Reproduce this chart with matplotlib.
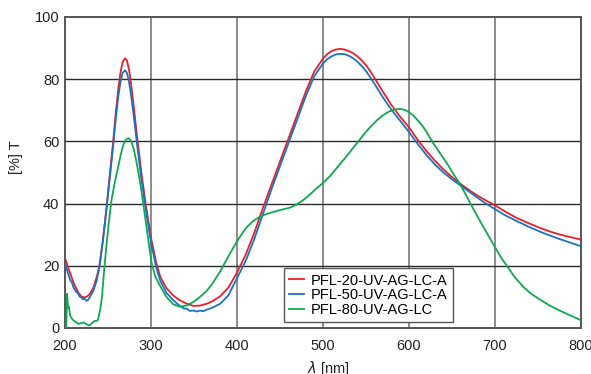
import numpy as np
import matplotlib
matplotlib.use('Agg')
import matplotlib.pyplot as plt

plt.rcParams['font.family'] = ['Liberation Sans', 'DejaVu Sans']

# PFL-20-UV-AG-LC-A (red)
wl_red = [200, 203, 206, 210, 213, 216, 219, 223, 226, 229, 233, 237, 240, 244, 248, 252, 256, 259, 262, 264.5,
          267, 269.8, 272, 274.5, 277, 280, 284, 289, 294, 300, 306, 311, 318, 326, 334, 341.6, 349.4, 357, 365,
          372, 380.5, 390, 400, 410, 420, 430, 440, 450, 460, 470, 480, 490, 500, 505, 510, 515, 520, 525, 530,
          535, 540, 545, 550, 555, 560, 570, 580, 590, 600, 610, 620, 630, 640, 650, 660, 670, 680, 690, 700, 712,
          725, 738, 752, 764, 776, 788, 800]
t_red = [22.5, 20, 17.6, 14.5, 12.7, 11.2, 10.1, 9.8, 10.2, 11, 13, 16.5, 20, 28, 38, 49, 60, 69, 77, 82,
         85.5, 86.7, 86, 83, 78, 71, 61, 49.5, 39.5, 29, 21, 16.3, 12.8, 10.4, 8.8, 7.8, 7.1, 7.2, 7.8,
         8.7, 10.2, 13, 17.8, 23.5, 30.5, 38.5, 46, 53.5, 61, 68.5, 76, 82.5, 86.6, 88, 89, 89.5, 89.7, 89.5, 89,
         88.3, 87.3, 86, 84.5, 82.5, 80.3, 75.8, 71.5, 67.8, 64.5, 60.5, 57, 53.8, 51, 48.5, 46.3, 44.3, 42.5, 40.9,
         39.4, 37.4, 35.4, 33.8, 32.2, 31, 30, 29.2, 28.4]

# PFL-50-UV-AG-LC-A (blue)
wl_blue = [200, 203, 206, 208, 210, 213, 215, 217, 219, 221, 223, 225, 227, 229, 233, 237, 240, 244, 248, 252,
           256, 259, 262, 264.5, 267, 269.8, 272, 274.5, 277, 280, 284, 289, 294, 300, 306, 311, 318, 326, 334,
           338, 341.6, 345, 349.4, 353, 357, 361, 365, 372, 380.5, 390, 400, 410, 420, 430, 440, 450, 460, 470,
           480, 490, 500, 505, 510, 515, 520, 525, 530, 535, 540, 545, 550, 555, 560, 570, 580, 590, 600, 610,
           620, 630, 640, 650, 660, 670, 680, 690, 700, 712, 725, 738, 752, 764, 776, 788, 800]
t_blue = [20.9, 18, 15.4, 14.6, 13, 11.6, 11.2, 10.1, 9.8, 9.2, 9.4, 8.7, 9.1, 10, 12, 15.4, 19.5, 28, 37.5, 48,
          58.5, 67, 74.5, 79, 82, 82.8, 82, 79, 74.5, 68, 58.5, 47.5, 38, 27.5, 19.5, 15, 11.3, 8.9, 7,
          6.3, 6.2, 5.5, 5.6, 5.3, 5.6, 5.4, 5.9, 6.6, 7.8, 10.5, 16, 21.5, 28.5, 36.5, 44.5, 52, 59.5, 67,
          74.5, 81, 85, 86.4, 87.3, 87.9, 88.1, 88, 87.5, 86.7, 85.6, 84.2, 82.6, 80.6, 78.4, 74, 70, 66.5, 63,
          59.2, 55.7, 52.6, 50, 47.8, 45.8, 43.8, 41.8, 39.9, 38.2, 36.2, 34.4, 32.7, 31, 29.7, 28.5, 27.4, 26.3]

# PFL-80-UV-AG-LC (green)
wl_green = [200, 201.5, 202.5, 203.5, 204.5, 206, 208, 210, 213, 216, 219, 222, 225, 228, 231, 234, 238, 241, 243,
            245, 248, 251, 254, 258, 262, 265, 268, 271, 274, 277, 280, 283, 286, 290, 294, 298, 301, 305, 310,
            318, 326, 334, 342, 350, 357, 365, 372, 380, 388, 395, 400, 406, 412, 418, 425, 432, 440, 450, 462,
            470, 478, 486, 493, 500, 508, 516, 528, 540, 548, 555, 563, 570, 575, 580, 585, 590, 595, 600, 605,
            610, 615, 620, 628, 636, 644, 651, 659, 667, 675, 683, 690, 700, 707, 714, 723, 733, 742, 752, 763,
            776, 788, 800]
t_green = [0, 0.5, 11, 6.5, 6.8, 4, 3, 2.4, 1.8, 1.3, 1.6, 1.8, 1.2, 0.8, 1.5, 2.2, 2.4, 6, 10,
           17, 26, 34, 41, 47, 52, 56, 59, 60.6, 61, 60, 57.5, 53.5, 49, 42, 34, 26, 20.5, 16.5, 13.8,
           10, 7.6, 6.8, 7.3, 8.5, 10, 12, 14.5, 18, 22, 25.5, 27.8, 30.4, 32.6, 34.2, 35.5, 36.4, 37.1, 37.9, 38.7,
           39.8, 41.3, 43.2, 45, 46.6, 48.8, 51.4, 55.4, 59.6, 62.4, 64.6, 66.8, 68.4, 69.3, 69.9, 70.3, 70.4, 70.1,
           69.4, 68.3, 66.8, 65.2, 63.2, 59.5, 56.2, 53, 49.8, 46.4, 42.4, 38.2, 34.2, 30.8, 26, 22.7, 19.9, 16.3,
           13.2, 11, 9.2, 7.3, 5.5, 4, 2.5]

labels = ['PFL-20-UV-AG-LC-A', 'PFL-50-UV-AG-LC-A', 'PFL-80-UV-AG-LC']
colors = ['#e8202a', '#1a72c4', '#10a850']

fig = plt.figure(figsize=(5.91, 3.74), dpi=100)
ax = fig.add_axes([0.110, 0.123, 0.873, 0.832])

ax.plot(wl_red, t_red, color=colors[0], lw=1.3, label=labels[0], zorder=3)
ax.plot(wl_blue, t_blue, color=colors[1], lw=1.3, label=labels[1], zorder=3)
ax.plot(wl_green, t_green, color=colors[2], lw=1.3, label=labels[2], zorder=3)

ax.set_xlim(200, 800)
ax.set_ylim(0, 100)
ax.set_xticks(np.arange(200, 801, 100))
ax.set_yticks(np.arange(0, 101, 20))
ax.tick_params(length=0, labelsize=10.5, colors='#222222')
ax.tick_params(axis='x', pad=8)
ax.tick_params(axis='y', pad=4)

for x in range(300, 800, 100):
    ax.axvline(x, color='#8c8c8c', lw=1.4, zorder=1)
for y in range(20, 100, 20):
    ax.axhline(y, color='#2a2a2a', lw=1.0, zorder=1)
for s in ax.spines.values():
    s.set_color('#555555')
    s.set_linewidth(1.4)

ax.set_xlabel(r'$\lambda$ [nm]', fontsize=10.5, color='#222222')
ax.xaxis.set_label_coords(0.51, -0.1)
ax.set_ylabel('[%] T', fontsize=10.5, color='#222222')
ax.yaxis.set_label_coords(-0.081, 0.55)

leg = ax.legend(loc='lower right', bbox_to_anchor=(0.752, 0.019), borderaxespad=0, fancybox=False,
                framealpha=1, edgecolor='#555555', fontsize=10.5, handlelength=1.0, handletextpad=0.5,
                labelspacing=0.05, borderpad=0.35)
leg.get_frame().set_linewidth(1.0)

fig.savefig('out.png', dpi=100)
